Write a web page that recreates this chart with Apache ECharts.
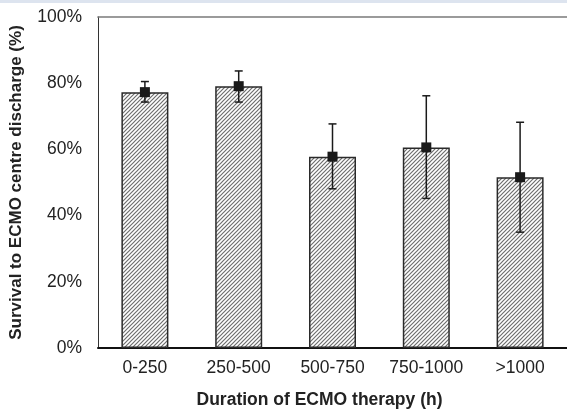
<!DOCTYPE html>
<html>
<head>
<meta charset="utf-8">
<script src="https://cdn.jsdelivr.net/npm/echarts@6/dist/echarts.min.js"></script>
<style>
html,body{margin:0;padding:0;background:#fff;}
#c{width:567px;height:414px;}
</style>
</head>
<body>
<div id="c"></div>
<script>
var categories = ['0-250', '250-500', '500-750', '750-1000', '>1000'];
var survival = [77.3, 79.1, 57.8, 60.6, 51.6];
var upperCI = [80.5, 83.7, 67.7, 76.2, 68.2];
var lowerCI = [74.3, 74.3, 48.1, 45.2, 35.0];
var yTicks = [0, 20, 40, 60, 80, 100];

// hatch pattern
var tile = document.createElement('canvas');
tile.width = 4; tile.height = 4;
var g = tile.getContext('2d');
g.fillStyle = '#ffffff';
g.fillRect(0, 0, 4, 4);
g.strokeStyle = '#6e6e6e';
g.lineWidth = 1.2;
g.beginPath();
g.moveTo(-1, 5); g.lineTo(5, -1);
g.moveTo(-1, 1); g.lineTo(1, -1);
g.moveTo(3, 5); g.lineTo(5, 3);
g.stroke();

var font = '"Liberation Sans", Arial, sans-serif';
var chart = echarts.init(document.getElementById('c'), null, {renderer: 'canvas'});

var errData = categories.map(function (c, i) { return [i, lowerCI[i], upperCI[i]]; });

chart.setOption({
  animation: false,
  backgroundColor: '#ffffff',
  graphic: [{
    type: 'rect', left: 0, top: 0, silent: true,
    shape: {width: 567, height: 3},
    style: {fill: '#dde4ef'}
  }],
  grid: {left: 98, top: 17, width: 470, height: 332, containLabel: false},
  xAxis: [{
    type: 'category',
    data: categories,
    position: 'bottom',
    axisLine: {show: true, lineStyle: {color: '#111', width: 2}},
    axisTick: {show: false},
    axisLabel: {color: '#222', fontSize: 17.5, fontFamily: font, margin: 11, interval: 0},
    name: 'Duration of ECMO therapy (h)',
    nameLocation: 'middle',
    nameGap: 43,
    nameTextStyle: {color: '#222', fontSize: 17.5, fontWeight: 'bold', fontFamily: font, padding: [0, 26, 0, 0]}
  }, {
    type: 'category',
    data: categories,
    position: 'top',
    axisLine: {show: true, lineStyle: {color: '#7a7a7a', width: 1.7}},
    axisTick: {show: false},
    axisLabel: {show: false}
  }],
  yAxis: {
    type: 'value',
    min: yTicks[0],
    max: yTicks[yTicks.length - 1],
    interval: 20,
    axisLine: {show: true, lineStyle: {color: '#333', width: 1}},
    axisTick: {show: false},
    splitLine: {show: false},
    axisLabel: {color: '#222', fontSize: 17.5, fontFamily: font, margin: 16, formatter: '{value}%'},
    name: 'Survival to ECMO centre discharge (%)',
    nameLocation: 'middle',
    nameGap: 73,
    nameTextStyle: {color: '#222', fontSize: 17, fontWeight: 'bold', fontFamily: font}
  },
  series: [{
    type: 'bar',
    data: survival,
    barWidth: 47,
    itemStyle: {
      color: {image: tile, repeat: 'repeat'},
      borderColor: '#2a2a2a',
      borderWidth: 1.5
    },
    z: 2
  }, {
    type: 'custom',
    data: errData,
    z: 3,
    renderItem: function (params, api) {
      var x = api.value(0);
      var lo = api.coord([x, api.value(1)]);
      var hi = api.coord([x, api.value(2)]);
      var hw = 4;
      var st = {stroke: '#1a1a1a', lineWidth: 1.5};
      return {
        type: 'group',
        children: [
          {type: 'line', shape: {x1: lo[0], y1: lo[1], x2: hi[0], y2: hi[1]}, style: st},
          {type: 'line', shape: {x1: lo[0] - hw, y1: lo[1], x2: lo[0] + hw, y2: lo[1]}, style: st},
          {type: 'line', shape: {x1: hi[0] - hw, y1: hi[1], x2: hi[0] + hw, y2: hi[1]}, style: st}
        ]
      };
    }
  }, {
    type: 'scatter',
    data: survival,
    symbol: 'rect',
    symbolSize: 10,
    itemStyle: {color: '#1a1a1a', opacity: 1},
    z: 4
  }]
});
</script>
</body>
</html>
